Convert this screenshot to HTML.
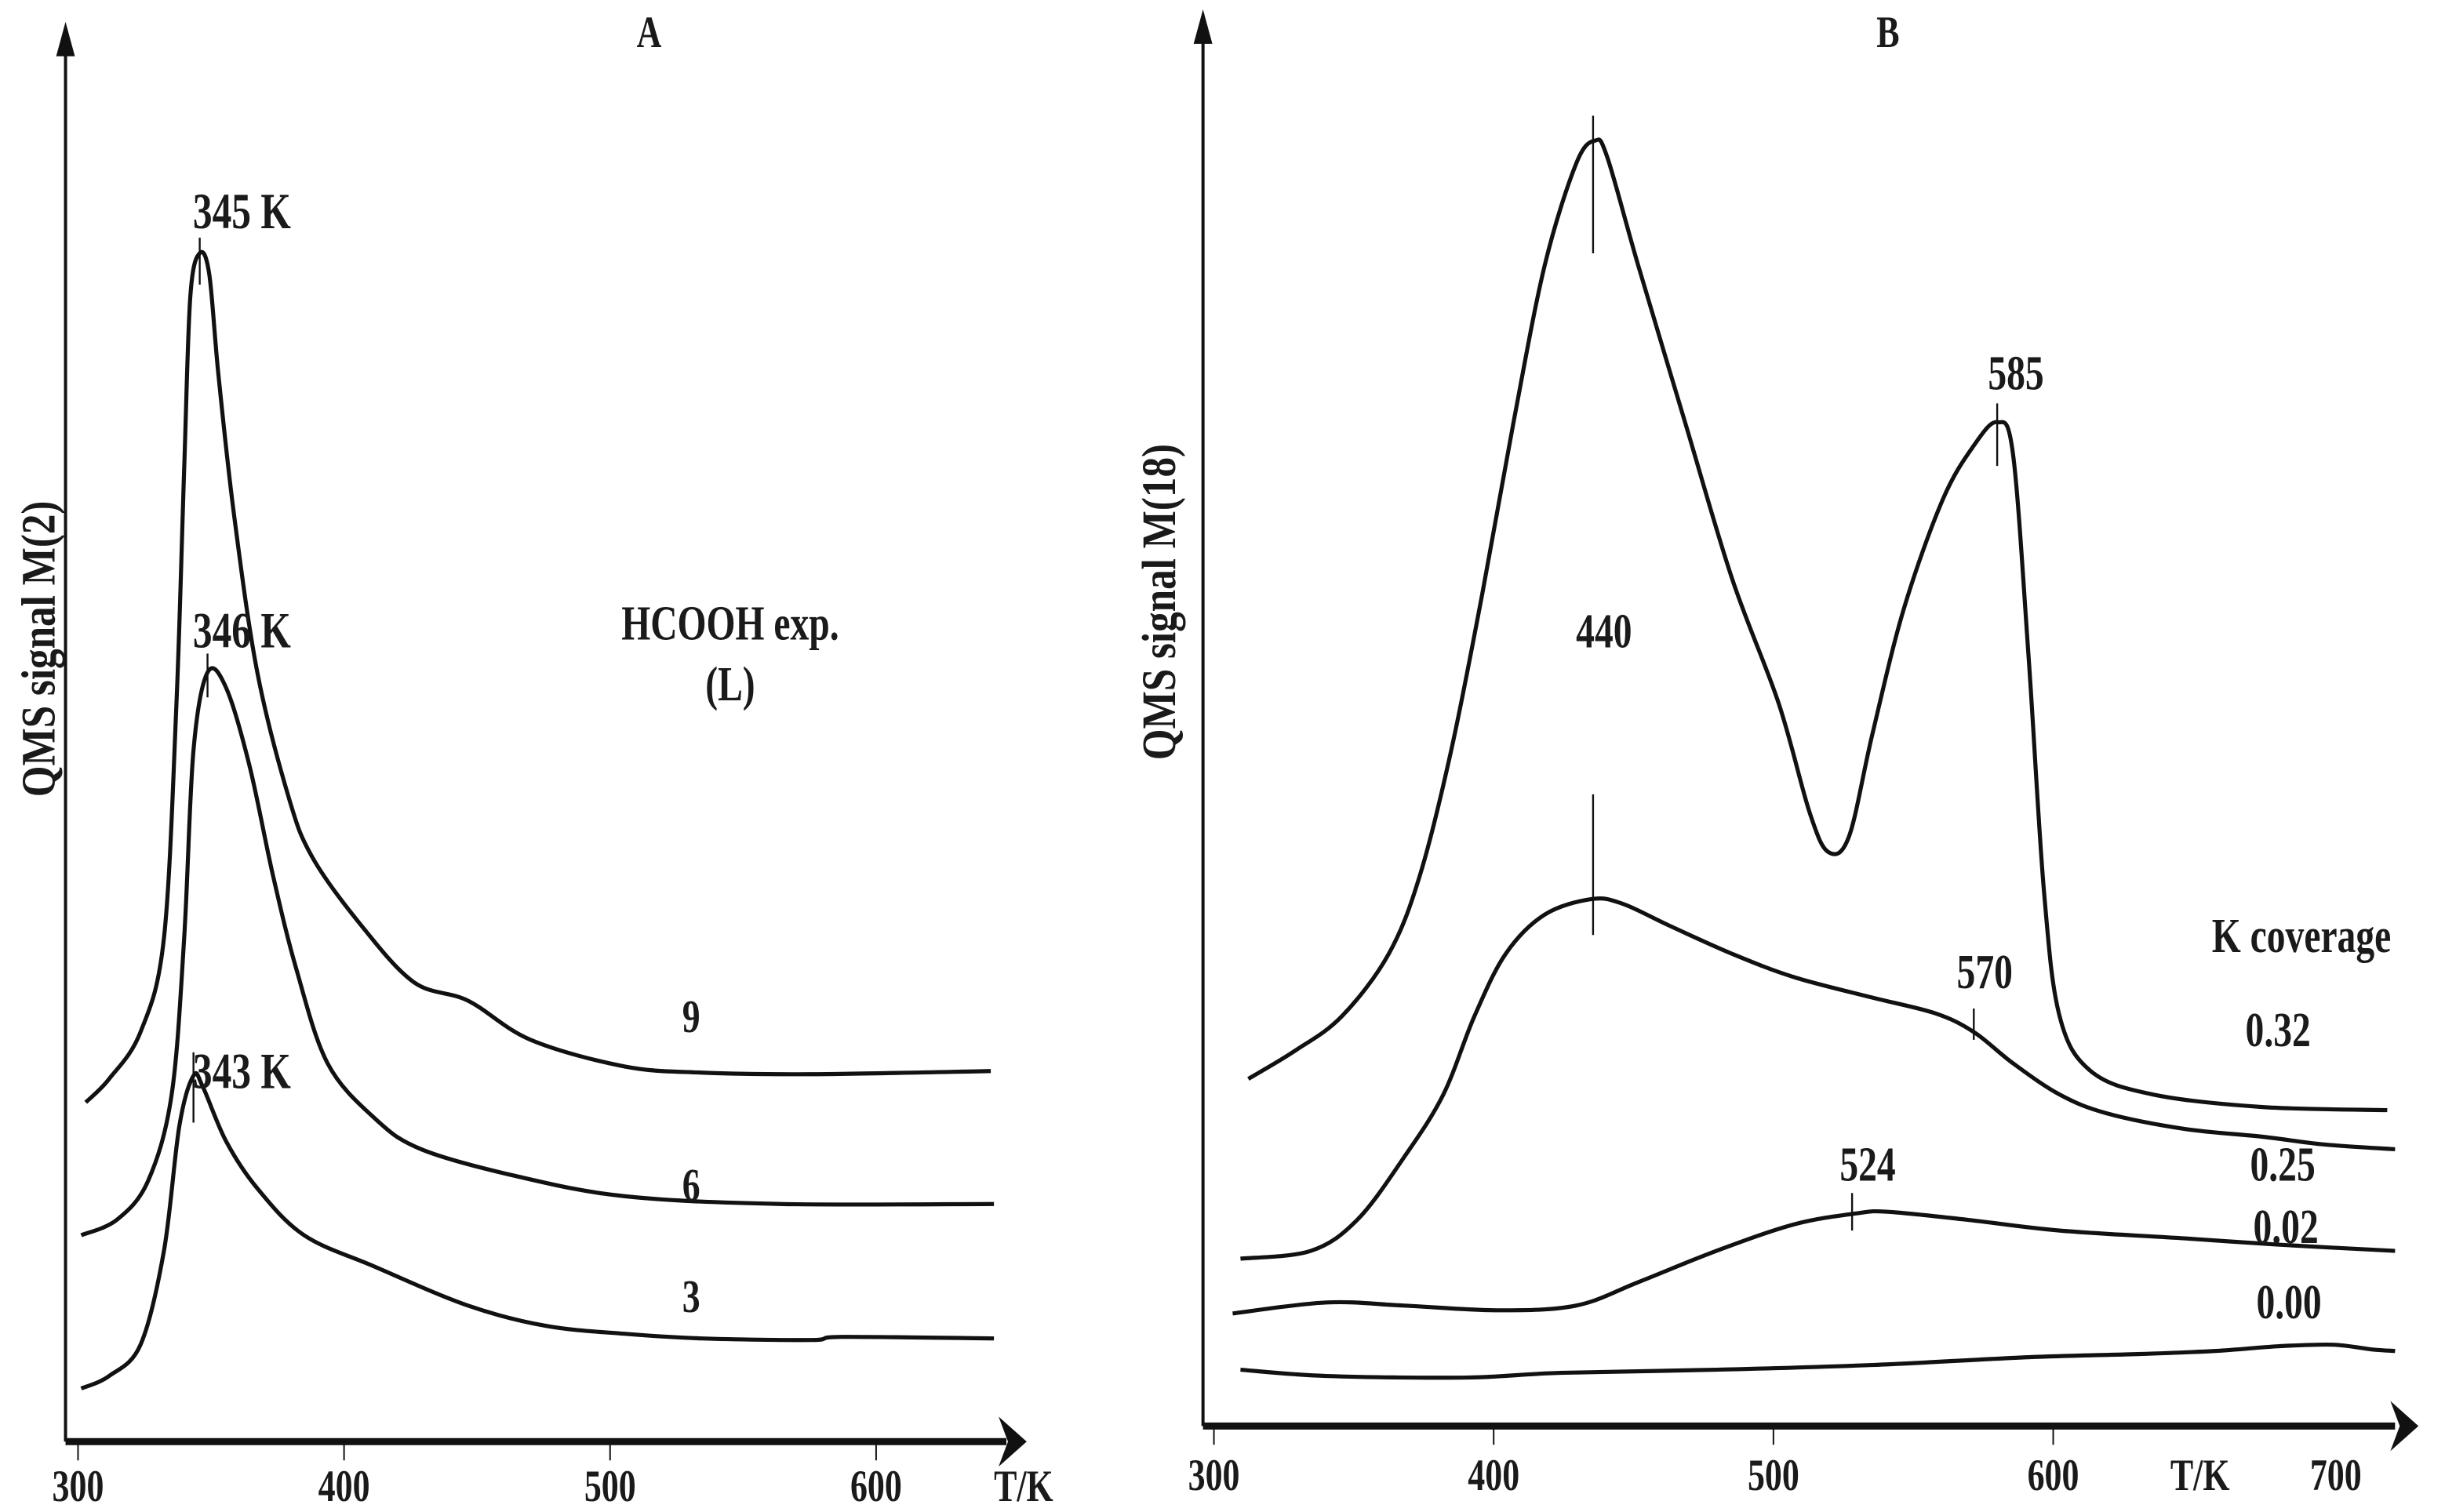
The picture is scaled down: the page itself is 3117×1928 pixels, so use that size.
<!DOCTYPE html>
<html><head><meta charset="utf-8"><style>
html,body{margin:0;padding:0;background:#fff;}
svg{display:block;}
text{font-family:"Liberation Serif",serif;font-weight:bold;fill:#1a1a1a;}
</style></head><body>
<svg id="fig" width="3117" height="1928" viewBox="0 0 1567 967" preserveAspectRatio="none" xmlns="http://www.w3.org/2000/svg">
<g id="static"></g>
</svg>
<script>
// ---- Panel A data (T in K, signal a.u.) ----
const aTicks = [300, 400, 500, 600];
const aT9 = [302.9,311.7,323.5,332.3,337,339.9,342.2,345.7,349.3,352.8,358.7,367.4,379.2,388,405.6,426.1,446.6,470.1,505.3,534.6,575.7,643.1];
const aS9 = [21.7,23.2,26.2,32.2,47.2,62.2,73.2,76,74.7,68.2,59.2,49.2,41.2,37.4,33.2,29.4,28.2,25.7,24,23.6,23.5,23.7];
const aT6 = [301.2,314.7,326.4,335.2,339.9,343.4,348.7,355.7,364.5,373.3,382.1,393.8,411.4,429,464.2,505.3,563.9,644.3];
const aS6 = [13.2,14.2,16.7,22.2,32.2,44.2,49.2,48.2,43.2,36.2,30.2,24.2,20.7,18.7,17,15.7,15.2,15.2];
const aT3 = [301.2,311.7,323.5,332.3,338.1,343.4,346.9,355.7,367.4,385,411.4,446.6,476,505.3,534.6,575.7,587.4,644.3];
const aS3 = [3.4,4.2,6.2,12.2,20.2,23.4,22.7,19.2,16.2,13.2,11.2,8.7,7.4,6.9,6.6,6.5,6.7,6.6];
// ---- Panel B data ----
const bTicks = [300, 400, 500, 600];
const bT32 = [312.3,329,345.7,362.5,373.6,384.8,395.9,407.1,418.2,429.4,436.1,440.5,451.7,468.4,485.2,501.9,513,519.7,527,535.3,546.5,560.4,571.6,580,585.6,591.2,596.7,602.3,613.4,635.7,674.8,719.4];
const bS32 = [22.2,24,26.2,30.2,35.2,43.2,53.2,64.2,74.2,80.7,82.2,81.2,74.2,64.2,54.2,46.2,39.2,36.7,37.7,44.2,52.2,59.2,62.7,64.2,62.2,49.2,34.2,26.2,22.7,21.2,20.4,20.2];
const bT25 = [309.5,334.6,351.3,368,382,393.1,404.3,418.2,435,446.1,462.8,485.2,507.5,535.3,557.7,571.6,585.6,602.3,619.1,647,674.8,697.1,722.2];
const bS25 = [10.7,11.2,13.2,17.2,21.2,26.2,30.2,32.7,33.7,33.4,32,30.2,28.7,27.4,26.4,25.2,23.2,21.2,20,19,18.5,18,17.7];
const bT02 = [306.7,340.2,368,401.5,429.4,451.7,479.6,507.5,529.8,540.9,568.8,602.3,646.9,680.4,722.2];
const bS02 = [7.2,7.9,7.7,7.4,7.7,9.2,11.2,12.9,13.6,13.7,13.2,12.5,12,11.6,11.2];
const bT00 = [309.5,340.2,390.3,423.8,479.6,535.3,591.1,630.2,658,680.4,699.9,713.8,722.2];
const bS00 = [3.6,3.2,3.1,3.4,3.6,3.9,4.4,4.6,4.8,5.1,5.2,4.9,4.8];

const NS = "http://www.w3.org/2000/svg";
const svg = document.getElementById('fig');
const ax = T => 50 + (T - 300) * 1.705;
const ay = s => 922 - s * 10;
const bx = T => 778 + (T - 300) * 1.793;
const by = s => 912 - s * 10;

function mk(tag, attrs, parent) {
  const e = document.createElementNS(NS, tag);
  for (const k in attrs) e.setAttribute(k, attrs[k]);
  (parent || svg).appendChild(e);
  return e;
}
function smooth(pts) {
  let d = `M${pts[0][0]},${pts[0][1]}`;
  for (let i = 0; i < pts.length - 1; i++) {
    const p0 = pts[Math.max(0, i - 1)], p1 = pts[i], p2 = pts[i + 1], p3 = pts[Math.min(pts.length - 1, i + 2)];
    const c1x = p1[0] + (p2[0] - p0[0]) / 6, c1y = p1[1] + (p2[1] - p0[1]) / 6;
    const c2x = p2[0] - (p3[0] - p1[0]) / 6, c2y = p2[1] - (p3[1] - p1[1]) / 6;
    d += ` C${c1x},${c1y} ${c2x},${c2y} ${p2[0]},${p2[1]}`;
  }
  return d;
}
function curve(Ts, Ss, fx, fy, name) {
  const pts = Ts.map((t, i) => [fx(t), fy(Ss[i])]);
  const p = mk('path', {d: smooth(pts), fill: 'none', stroke: '#111', 'stroke-width': 2.6, 'stroke-linejoin': 'round'});
  
  
}
function txt(x, y, s, size, name, anchor) {
  // slightly tall, condensed glyphs like the reference
  const t = mk('text', {x: 0, y: 0, 'font-size': size, 'text-anchor': anchor || 'middle',
    transform: `translate(${x},${y}) scale(0.92,1.2)`});
  t.textContent = s;
  
  
  return t;
}
function line(x1, y1, x2, y2, w, name) {
  const l = mk('line', {x1, y1, x2, y2, stroke: '#111', 'stroke-width': w});
  
  
}
function arrowUp(x, y, name) {
  const p = mk('polygon', {points: `${x},${y} ${x-6},${y+22} ${x+6},${y+22}`, fill: '#111'});
  
  
}
function arrowRight(x, y, name) {
  const p = mk('polygon', {points: `${x},${y} ${x-18},${y-16} ${x-12},${y} ${x-18},${y+16}`, fill: '#111'});
  
  
}

// ---- Panel A axes ----
line(42, 30, 42, 922, 2, 'a-y-axis');
arrowUp(42, 14, 'a-y-axis-arrow');
line(42, 922, 645, 922, 4.5, 'a-x-axis');
arrowRight(658, 922, 'a-x-axis-arrow');
aTicks.forEach(t => {
  line(ax(t), 924, ax(t), 934, 1, 'a-x-tick');
  txt(ax(t), 960, String(t), 24, 'a-x-tick-label');
});
txt(656, 960, 'T/K', 24, 'a-x-axis-title');
txt(416, 30, 'A', 24, 'a-panel-title');
const ya = mk('text', {x: 0, y: 0, 'font-size': 27, 'text-anchor': 'middle', transform: 'translate(35,415) rotate(-90) scale(0.95,1.15)'});
ya.textContent = 'QMS signal  M(2)';



curve(aT9, aS9, ax, ay, 'a-series-9L');
curve(aT6, aS6, ax, ay, 'a-series-6L');
curve(aT3, aS3, ax, ay, 'a-series-3L');
line(128, 152, 128, 182, 1.2, 'a-peak-marker-345');
txt(155, 146, '345 K', 27, 'a-peak-label-345');
line(133, 418, 133, 446, 1.2, 'a-peak-marker-346');
txt(155, 414, '346 K', 27, 'a-peak-label-346');
line(124, 673, 124, 718, 1.2, 'a-peak-marker-343');
txt(155, 696, '343 K', 27, 'a-peak-label-343');
txt(443, 660, '9', 25, 'a-label-9');
txt(443, 768, '6', 25, 'a-label-6');
txt(443, 839, '3', 25, 'a-label-3');
txt(468, 409, 'HCOOH exp.', 26, 'a-legend-title');
txt(468, 448, '(L)', 26, 'a-legend-unit');

// ---- Panel B axes ----
line(771, 22, 771, 912, 2, 'b-y-axis');
arrowUp(771, 6, 'b-y-axis-arrow');
line(771, 912, 1535, 912, 4.5, 'b-x-axis');
arrowRight(1550, 912, 'b-x-axis-arrow');
bTicks.forEach(t => {
  line(bx(t), 914, bx(t), 924, 1, 'b-x-tick');
  txt(bx(t), 953, String(t), 24, 'b-x-tick-label');
});
txt(1410, 953, 'T/K', 24, 'b-x-axis-title');
txt(1497, 953, '700', 24, 'b-x-tick-label-700');
txt(1210, 30, 'B', 24, 'b-panel-title');
const yb = mk('text', {x: 0, y: 0, 'font-size': 27, 'text-anchor': 'middle', transform: 'translate(753,385) rotate(-90) scale(0.95,1.15)'});
yb.textContent = 'QMS signal M(18)';



curve(bT32, bS32, bx, by, 'b-series-0.32');
curve(bT25, bS25, bx, by, 'b-series-0.25');
curve(bT02, bS02, bx, by, 'b-series-0.02');
curve(bT00, bS00, bx, by, 'b-series-0.00');
line(1021, 74, 1021, 162, 1.2, 'b-peak-marker-440-top');
txt(1292, 249, '585', 26, 'b-peak-label-585');
line(1280, 258, 1280, 298, 1.2, 'b-peak-marker-585');
txt(1028, 414, '440', 26, 'b-peak-label-440');
line(1021, 508, 1021, 598, 1.2, 'b-peak-marker-440');
txt(1272, 632, '570', 26, 'b-peak-label-570');
line(1265, 645, 1265, 665, 1.2, 'b-peak-marker-570');
txt(1197, 755, '524', 26, 'b-peak-label-524');
line(1187, 763, 1187, 787, 1.2, 'b-peak-marker-524');
txt(1475, 609, 'K coverage', 26, 'b-legend-title');
txt(1460, 669, '0.32', 26, 'b-label-0.32');
txt(1463, 755, '0.25', 26, 'b-label-0.25');
txt(1465, 795, '0.02', 26, 'b-label-0.02');
txt(1467, 843, '0.00', 26, 'b-label-0.00');
</script>
</body></html>
